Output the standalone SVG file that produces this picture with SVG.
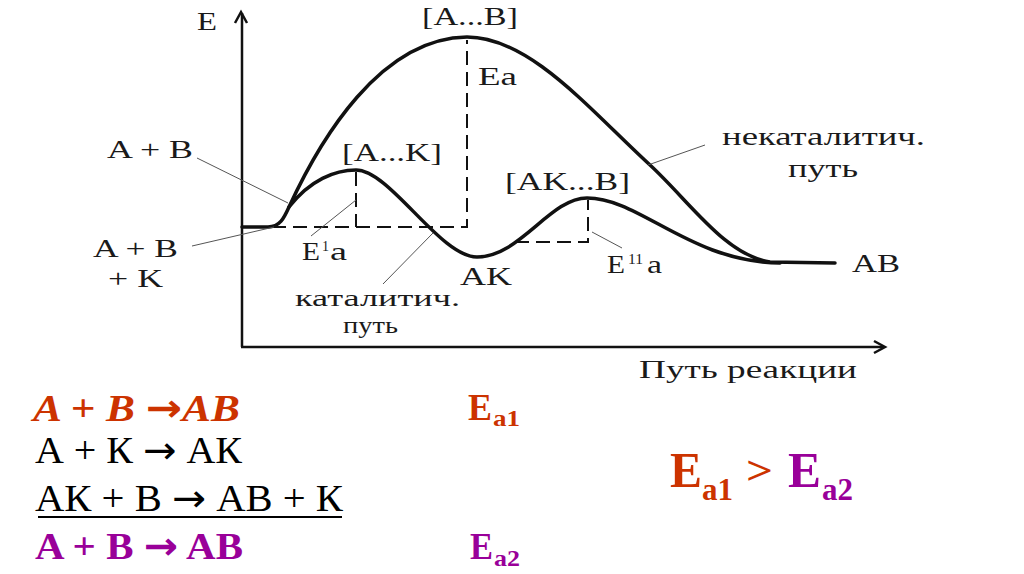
<svg xmlns="http://www.w3.org/2000/svg" width="1024" height="574" viewBox="0 0 1024 574">
<style>
.t{font-family:"Liberation Serif","Times New Roman",serif;font-size:26px;fill:#1a1a1a}
.sup{font-family:"Liberation Serif","Times New Roman",serif;font-size:14px;fill:#1a1a1a}
.eq{font-family:"Liberation Serif","Times New Roman",serif;font-size:38px;fill:#000}
.arr{font-family:"DejaVu Sans",sans-serif;font-style:normal}
.red{fill:#CC3300}
.pur{fill:#990099}
.b{font-weight:bold}
.i{font-style:italic}
.curve{fill:none;stroke:#111;stroke-width:3.5;stroke-linecap:round;stroke-linejoin:round}
.axis{fill:none;stroke:#111;stroke-width:2.5}
.dash{fill:none;stroke:#111;stroke-width:2;stroke-dasharray:14 7}
.lead{fill:none;stroke:#555;stroke-width:1}
</style>
<rect width="1024" height="574" fill="#fff"/>
<g id="axes">
<line class="axis" x1="242" y1="347" x2="242" y2="13"/>
<polyline class="axis" points="235,23 241,12 247,23"/>
<line class="axis" x1="241" y1="347" x2="884" y2="347"/>
<polyline class="axis" points="874,341 885,347 874,353"/>
<text class="t" x="197" y="30" textLength="20" lengthAdjust="spacingAndGlyphs">E</text>
<text class="t" x="639" y="378" textLength="218" lengthAdjust="spacingAndGlyphs">Путь реакции</text>
</g>
<g id="curves">
<path id="uncatalyzed" class="curve" d="M242,227 L268,227 C280,227 284,218 289,207 C320,140 380,38 467,37 C530,37 590,110 650,165 C690,202 725,255 770,262 L835,263"/>
<path id="catalyzed" class="curve" d="M289,207 C310,180 335,170 356,170 C390,170 440,257 477,257 C520,257 550,198 587,198 C640,198 690,262 780,263"/>
</g>
<g id="connectors">
<polyline class="dash" points="272,227 467,227 467,40"/>
<line class="dash" x1="356" y1="172" x2="356" y2="227"/>
<polyline class="dash" points="515,242 588,242 588,200"/>
<line class="lead" x1="197" y1="158" x2="288" y2="203"/>
<line class="lead" x1="192" y1="246" x2="274" y2="227"/>
<line class="lead" x1="311" y1="236" x2="356" y2="200"/>
<line class="lead" x1="383" y1="284" x2="433" y2="233"/>
<line class="lead" x1="648" y1="165" x2="705" y2="145"/>
<line class="lead" x1="592" y1="232" x2="622" y2="248"/>
</g>
<g id="label-AB-transition"><text class="t" x="422" y="25" textLength="96" lengthAdjust="spacingAndGlyphs">[A...B]</text></g>
<g id="label-Ea"><text class="t" x="478" y="85" textLength="39" lengthAdjust="spacingAndGlyphs">Ea</text></g>
<g id="label-A-B"><text class="t" x="107" y="158" textLength="86" lengthAdjust="spacingAndGlyphs">A + B</text></g>
<g id="label-AK-transition"><text class="t" x="342" y="161" textLength="100" lengthAdjust="spacingAndGlyphs">[A...K]</text></g>
<g id="label-AKB-transition"><text class="t" x="505" y="190" textLength="125" lengthAdjust="spacingAndGlyphs">[AK...B]</text></g>
<g id="label-A-B-K">
<text class="t" x="93" y="257" textLength="85" lengthAdjust="spacingAndGlyphs">A + B</text>
<text class="t" x="108" y="287" textLength="55" lengthAdjust="spacingAndGlyphs">+ K</text>
</g>
<g id="label-E1a">
<text class="t" x="302" y="260" textLength="18" lengthAdjust="spacingAndGlyphs">E</text>
<text class="sup" x="322" y="251">1</text>
<text class="t" x="330" y="260" textLength="17" lengthAdjust="spacingAndGlyphs">a</text>
</g>
<g id="label-AK"><text class="t" x="460" y="285" textLength="52" lengthAdjust="spacingAndGlyphs">AK</text></g>
<g id="label-catalytic">
<text class="t" style="font-size:24px" x="295" y="306" textLength="165" lengthAdjust="spacingAndGlyphs">каталитич.</text>
<text class="t" style="font-size:24px" x="343" y="333" textLength="55" lengthAdjust="spacingAndGlyphs">путь</text>
</g>
<g id="label-noncatalytic">
<text class="t" x="722" y="145" textLength="203" lengthAdjust="spacingAndGlyphs">некаталитич.</text>
<text class="t" x="788" y="177" textLength="70" lengthAdjust="spacingAndGlyphs">путь</text>
</g>
<g id="label-E11a">
<text class="t" x="607" y="273" textLength="18" lengthAdjust="spacingAndGlyphs">E</text>
<text class="sup" x="628" y="264" textLength="15" lengthAdjust="spacingAndGlyphs">11</text>
<text class="t" x="647" y="273" textLength="15" lengthAdjust="spacingAndGlyphs">a</text>
</g>
<g id="label-AB"><text class="t" x="852" y="272" textLength="48" lengthAdjust="spacingAndGlyphs">AB</text></g>
<g id="equations">
<text class="eq red b i" x="33" y="421" textLength="207" lengthAdjust="spacingAndGlyphs">A + B <tspan class="arr">→</tspan>AB</text>
<text class="eq" x="35" y="463" textLength="207" lengthAdjust="spacingAndGlyphs">А + К <tspan class="arr">→</tspan> АК</text>
<text class="eq" x="35" y="511" textLength="308" lengthAdjust="spacingAndGlyphs">АК + В <tspan class="arr">→</tspan> АВ + К</text>
<line x1="38" y1="517" x2="342" y2="517" stroke="#000" stroke-width="2"/>
<text class="eq pur b" x="35" y="559" textLength="208" lengthAdjust="spacingAndGlyphs">A + B <tspan class="arr">→</tspan> AB</text>
<text class="eq red b" x="468" y="420" textLength="24" lengthAdjust="spacingAndGlyphs">E</text>
<text class="eq red b" style="font-size:24px" x="493" y="426" textLength="27" lengthAdjust="spacingAndGlyphs">a1</text>
<text class="eq pur b" x="470" y="559" textLength="23" lengthAdjust="spacingAndGlyphs">E</text>
<text class="eq pur b" style="font-size:24px" x="494" y="566" textLength="26" lengthAdjust="spacingAndGlyphs">a2</text>
</g>
<g id="comparison">
<text class="eq red b" style="font-size:50px" x="670" y="487" textLength="32" lengthAdjust="spacingAndGlyphs">E</text>
<text class="eq red b" style="font-size:32px" x="702" y="500" textLength="31" lengthAdjust="spacingAndGlyphs">a1</text>
<text class="eq red b" style="font-size:40px" x="746" y="484" textLength="27" lengthAdjust="spacingAndGlyphs">&gt;</text>
<text class="eq pur b" style="font-size:50px" x="788" y="487" textLength="33" lengthAdjust="spacingAndGlyphs">E</text>
<text class="eq pur b" style="font-size:32px" x="822" y="500" textLength="31" lengthAdjust="spacingAndGlyphs">a2</text>
</g>
</svg>
